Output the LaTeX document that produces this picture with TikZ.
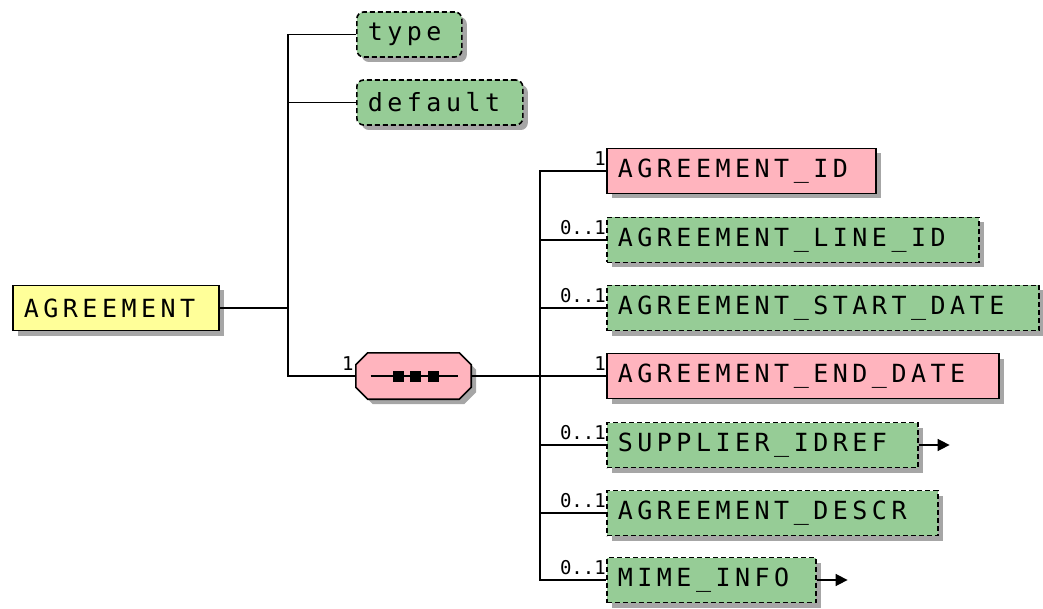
\documentclass[tikz,border=0pt]{standalone}
\usepackage{fontspec}
\newfontfamily\elemfont[LetterSpace=18]{DejaVu Sans Mono}
\newfontfamily\cardfont{DejaVu Sans Mono}
\usetikzlibrary{shadows,arrows.meta,calc}
\definecolor{ylw}{RGB}{255,255,153}
\definecolor{grn}{RGB}{150,204,150}
\definecolor{pnk}{RGB}{255,180,190}
\tikzset{
  x=1pt,y=-1pt,
  box/.style={draw=black, line width=1.6pt, minimum height=45pt, inner xsep=11pt,
    anchor=west, align=left, font=\elemfont\fontsize{25}{25}\selectfont,
    drop shadow={shadow xshift=5pt,shadow yshift=-5pt,fill=black!35,opacity=1}},
  opt/.style={box, fill=grn, dash pattern=on 5pt off 3pt},
  req/.style={box, fill=pnk},
  attr/.style={opt, rounded corners=7pt},
  conn/.style={draw=black, line width=1.6pt},
  card/.style={font=\cardfont\fontsize{19}{19}\selectfont, inner sep=0pt, anchor=south east},
  reftip/.style={conn, -{Triangle[length=12pt,width=12pt]}}
}
\begin{document}
\begin{tikzpicture}
\useasboundingbox (0,0) rectangle (1043,609);
% root
\node[box, fill=ylw, text width=184pt] (agr) at (12,308) {AGREEMENT};
% attributes
\node[attr, text width=83pt] (typ) at (356,34.5) {type};
\node[attr, text width=144pt] (dflt) at (356,102.5) {default};
% sequence compositor
\node[minimum width=115pt, minimum height=46pt, inner sep=0pt] (seq) at (413.5,376) {};
\fill[black!35] ([xshift=17pt,yshift=-5pt]seq.north west) -- ([xshift=-7pt,yshift=-5pt]seq.north east)
  -- ([xshift=5pt,yshift=-17pt]seq.north east) -- ([xshift=5pt,yshift=7pt]seq.south east)
  -- ([xshift=-7pt,yshift=-5pt]seq.south east) -- ([xshift=17pt,yshift=-5pt]seq.south west)
  -- ([xshift=5pt,yshift=7pt]seq.south west) -- ([xshift=5pt,yshift=-17pt]seq.north west) -- cycle;
\filldraw[fill=pnk, draw=black, line width=1.6pt]
  ([xshift=12pt]seq.north west) -- ([xshift=-12pt]seq.north east)
  -- ([yshift=-12pt]seq.north east) -- ([yshift=12pt]seq.south east)
  -- ([xshift=-12pt]seq.south east) -- ([xshift=12pt]seq.south west)
  -- ([yshift=12pt]seq.south west) -- ([yshift=-12pt]seq.north west) -- cycle;
\draw[line width=1.6pt] ([xshift=-43pt]seq.center) -- ([xshift=44pt]seq.center);
\foreach \dx in {-21,-4,14}
  \fill ([xshift=\dx pt,yshift=5.5pt]seq.center) rectangle ++(11,11);
% children
\node[req, text width=247pt] (c1) at (606,171) {AGREEMENT\_ID};
\node[opt, text width=350pt] (c2) at (606,240) {AGREEMENT\_LINE\_ID};
\node[opt, text width=410pt] (c3) at (606,308) {AGREEMENT\_START\_DATE};
\node[req, text width=370pt] (c4) at (606,376) {AGREEMENT\_END\_DATE};
\node[opt, text width=289pt] (c5) at (606,445) {SUPPLIER\_IDREF};
\node[opt, text width=309pt] (c6) at (606,513) {AGREEMENT\_DESCR};
\node[opt, text width=187pt] (c7) at (606,580) {MIME\_INFO};
% bus coordinates
\coordinate (b1) at (288,308);
\coordinate (b2) at (540,376);
\coordinate (r5) at ($(c5.east)+(31,0)$);
\coordinate (r7) at ($(c7.east)+(31,0)$);
% connectors
\draw[conn] (agr.east) -- (b1);
\draw[conn] (typ.west) -| (b1);
\draw[conn] (dflt.west) -- (dflt.west -| b1);
\draw[conn] (seq.west) -| (b1);
\draw[conn] (seq.east) -- (b2);
\draw[conn] (c1.west) -| (b2);
\draw[conn] (c7.west) -| (b2);
\foreach \c in {c2,c3,c4,c5,c6}
  \draw[conn] (\c.west) -- (\c.west -| b2);
\draw[reftip] (c5.east) -- (r5);
\draw[reftip] (c7.east) -- (r7);
% cardinalities
\node[card] at ([xshift=-2pt,yshift=5pt]seq.west) {1};
\foreach \c in {c1,c4}
  \node[card] at ([yshift=5pt]\c.west) {1};
\foreach \c in {c2,c3,c5,c6,c7}
  \node[card] at ([yshift=5pt]\c.west) {0..1};
\end{tikzpicture}
\end{document}
